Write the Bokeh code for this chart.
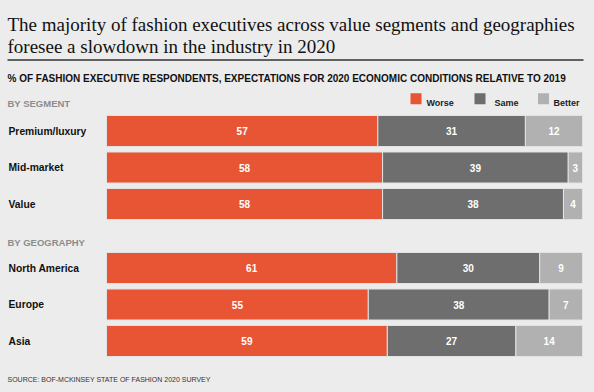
from bokeh.plotting import figure
from bokeh.models import Range1d, ColumnDataSource
from bokeh.core.properties import value
from bokeh.embed import file_html
from bokeh.resources import INLINE

# ---- data ----
segment_cats = ["Premium/luxury", "Mid-market", "Value"]
segment_worse = [57, 58, 58]
segment_same = [31, 39, 38]
segment_better = [12, 3, 4]

geo_cats = ["North America", "Europe", "Asia"]
geo_worse = [61, 55, 59]
geo_same = [30, 38, 27]
geo_better = [9, 7, 14]

series_names = ["Worse", "Same", "Better"]
series_colors = ["#e85535", "#6e6e6e", "#b1b1b1"]

title_lines = ["The majority of fashion executives across value segments and geographies",
               "foresee a slowdown in the industry in 2020"]
subtitle = "% OF FASHION EXECUTIVE RESPONDENTS, EXPECTATIONS FOR 2020 ECONOMIC CONDITIONS RELATIVE TO 2019"
group_headers = ["BY SEGMENT", "BY GEOGRAPHY"]
source_text = "SOURCE: BOF-MCKINSEY STATE OF FASHION 2020 SURVEY"

# ---- layout ----
W, H = 594, 392
BG = "#ececec"
SANS = "Liberation Sans"
SERIF = "Liberation Serif"

p = figure(width=W, height=H, output_backend="svg", toolbar_location=None,
           x_range=Range1d(0, W), y_range=Range1d(H, 0),
           min_border=0, min_border_left=0, min_border_right=0,
           min_border_top=0, min_border_bottom=0)
p.axis.visible = False
p.grid.visible = False
p.outline_line_color = None
p.background_fill_color = BG
p.border_fill_color = BG

# percent scale for the bars: 0% at px 106, 100% at px 582
x0_px, x100_px = 106.0, 582.0
ppu = (x100_px - x0_px) / 100.0
p.extra_x_ranges = {"pct": Range1d(-x0_px / ppu, (W - x0_px) / ppu)}

bar_h = 31
pitch = 36.5
seg_y = [130.5 + i * pitch for i in range(len(segment_cats))]
geo_y = [267.5 + i * pitch for i in range(len(geo_cats))]

cats = segment_cats + geo_cats
ys = seg_y + geo_y
worse = segment_worse + geo_worse
same = segment_same + geo_same
better = segment_better + geo_better

stacks = [worse, same, better]
left = [0] * len(cats)
for vals, col in zip(stacks, series_colors):
    right = [l + v for l, v in zip(left, vals)]
    src = ColumnDataSource(dict(y=ys, left=left, right=right,
                                mid=[(l + r) / 2 for l, r in zip(left, right)],
                                lab=[str(v) for v in vals]))
    p.hbar(y="y", left="left", right="right", height=bar_h, source=src,
           fill_color=col, line_color="#e2e2e2", line_width=1, x_range_name="pct")
    p.text(x="mid", y="y", text="lab", source=src, x_range_name="pct",
           text_color="white", text_font=value(SANS), text_font_style="bold",
           text_font_size="10px", text_align="center", text_baseline="middle")
    left = right

# category labels
p.text(x=[8] * len(cats), y=ys, text=cats, text_color="#111111",
       text_font=value(SANS), text_font_style="bold", text_font_size="10.3px",
       text_align="left", text_baseline="middle")

# title
p.text(x=[7, 7], y=[24, 45.5], text=title_lines, text_color="#111111",
       text_font=value(SERIF), text_font_size="19px",
       text_align="left", text_baseline="alphabetic")
p.segment(x0=[7], y0=[59.5], x1=[583], y1=[59.5], line_color="#333333", line_width=1.5)

p.text(x=[7], y=[78], text=[subtitle], text_color="#111111",
       text_font=value(SANS), text_font_style="bold", text_font_size="10px",
       text_align="left", text_baseline="alphabetic")

p.text(x=[7, 7], y=[103.3, 241.7], text=group_headers, text_color="#8c8c8c",
       text_font=value(SANS), text_font_style="bold", text_font_size="9.5px",
       text_align="left", text_baseline="alphabetic")

# legend
sq_x = [415.5, 479.5, 543]
txt_x = [426, 494, 553]
p.rect(x=sq_x, y=[98.3] * 3, width=11, height=11, fill_color=series_colors, line_color=None)
p.text(x=txt_x, y=[102] * 3, text=series_names, text_color="#222222",
       text_font=value(SANS), text_font_style="bold", text_font_size="9px",
       text_align="left", text_baseline="alphabetic")

p.text(x=[7], y=[379.3], text=[source_text], text_color="#333333",
       text_font=value(SANS), text_font_size="7px",
       text_align="left", text_baseline="alphabetic")

html = file_html(p, INLINE)
html = html.replace("<head>", "<head><style>html, body { background: %s; }</style>" % BG, 1)
open("out.html", "w").write(html)
